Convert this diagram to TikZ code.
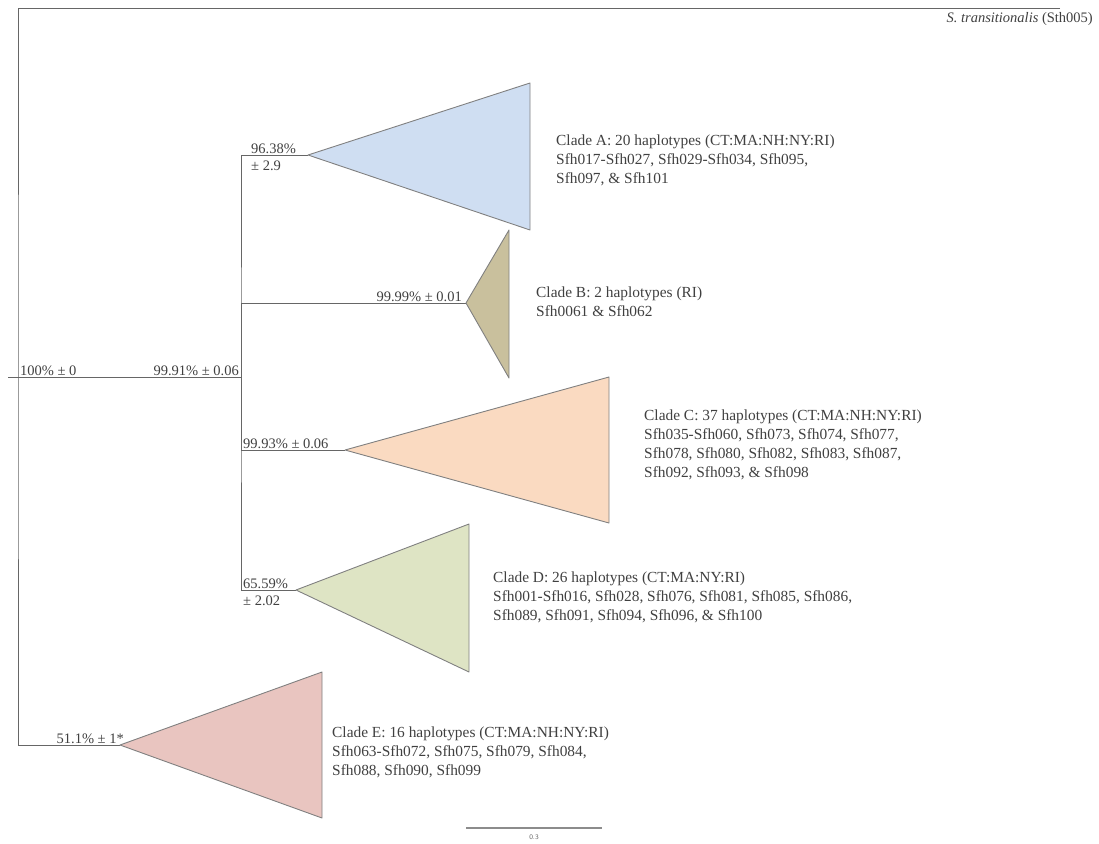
\documentclass[tikz,border=0pt]{standalone}
\usepackage{fontspec}
\setmainfont{Liberation Serif}
\usetikzlibrary{positioning, calc}
\definecolor{cladeA}{RGB}{207,222,242}
\definecolor{cladeB}{RGB}{201,192,157}
\definecolor{cladeC}{RGB}{250,218,193}
\definecolor{cladeD}{RGB}{222,228,196}
\definecolor{cladeE}{RGB}{233,197,192}
\tikzset{branch/.style={draw=black!60, line width=0.9pt},
         clade/.style={draw=black!50, line width=0.9pt, line join=round},
         support/.style={font=\fontsize{14.5}{16}\selectfont, text=black!75, inner sep=1pt},
         cladetext/.style={font=\fontsize{15.4}{19}\selectfont, text=black!75, align=left, anchor=west, inner sep=0pt}}

\begin{document}
\begin{tikzpicture}[x=1pt, y=1pt]
        \useasboundingbox (0,0) rectangle (1099,-843);
        % tree points
        \coordinate (stub) at (8,-377);
        \coordinate (root) at (18,-377);
        \coordinate (inner) at (241,-377);
        \coordinate (outgroup) at (1060,-8);
        \coordinate (apexA) at (308,-155);
        \coordinate (apexB) at (466,-303);
        \coordinate (apexC) at (345,-450);
        \coordinate (apexD) at (296,-590);
        \coordinate (apexE) at (120,-745);

        \draw[branch] (stub) -- (inner);
        \draw[branch] (outgroup) -| (root) |- (apexE);
        \draw[branch] (apexA) -| (inner) |- (apexD);
        \draw[branch] (inner) |- (apexB);
        \draw[branch] (inner) |- (apexC);

        % collapsed clades
        \draw[clade, fill=cladeA] (apexA) -- (530,-83) -- (530,-230) -- cycle;
        \draw[clade, fill=cladeB] (apexB) -- (509,-230) -- (509,-378) -- cycle;
        \draw[clade, fill=cladeC] (apexC) -- (609,-377) -- (609,-523) -- cycle;
        \draw[clade, fill=cladeD] (apexD) -- (469,-524) -- (469,-672) -- cycle;
        \draw[clade, fill=cladeE] (apexE) -- (322,-672) -- (322,-818) -- cycle;

        % support values
        \node[support, anchor=south west] (supRoot) at (19,-377) {100\% ± 0};
        \node[support, anchor=south east] (supInner) at (240,-377) {99.91\% ± 0.06};
        \node[support, anchor=south west] (supA) at (250,-155) {96.38\%};
        \node[support, anchor=north west] (supAb) at (250,-160) {± 2.9};
        \node[support, anchor=south east] (supB) at (463,-303) {99.99\% ± 0.01};
        \node[support, anchor=south west] (supC) at (242,-450) {99.93\% ± 0.06};
        \node[support, anchor=south west] (supD) at (242,-590) {65.59\%};
        \node[support, anchor=north west] (supDb) at (242,-595) {± 2.02};
        \node[support, anchor=south east] (supE) at (125,-745) {51.1\% ± 1*};

        % clade labels
        \node[cladetext] (labA) at (556,-160) {Clade A: 20 haplotypes (CT:MA:NH:NY:RI)\\Sfh017-Sfh027, Sfh029-Sfh034, Sfh095,\\Sfh097, \& Sfh101};
        \node[cladetext] (labB) at (536,-302) {Clade B: 2 haplotypes (RI)\\Sfh0061 \& Sfh062};
        \node[cladetext] (labC) at (644,-445) {Clade C: 37 haplotypes (CT:MA:NH:NY:RI)\\Sfh035-Sfh060, Sfh073, Sfh074, Sfh077,\\Sfh078, Sfh080, Sfh082, Sfh083, Sfh087,\\Sfh092, Sfh093, \& Sfh098};
        \node[cladetext] (labD) at (493,-597) {Clade D: 26 haplotypes (CT:MA:NY:RI)\\Sfh001-Sfh016, Sfh028, Sfh076, Sfh081, Sfh085, Sfh086,\\Sfh089, Sfh091, Sfh094, Sfh096, \& Sfh100};
        \node[cladetext] (labE) at (332,-752) {Clade E: 16 haplotypes (CT:MA:NH:NY:RI)\\Sfh063-Sfh072, Sfh075, Sfh079, Sfh084,\\Sfh088, Sfh090, Sfh099};
        \node[support, anchor=east, inner sep=0pt] (labOut) at (1093,-19) {\textit{S. transitionalis} (Sth005)};

        % scale bar
        \coordinate (bar0) at (466,-828);
        \coordinate (bar1) at (602,-828);
        \draw[branch, line width=1.2pt, draw=black!45] (bar0) -- (bar1);
        \node[font=\sffamily\fontsize{7}{8}\selectfont, text=black!60, below=3pt of $(bar0)!0.5!(bar1)$] (barlab) {0.3};
    \end{tikzpicture}
\end{document}
